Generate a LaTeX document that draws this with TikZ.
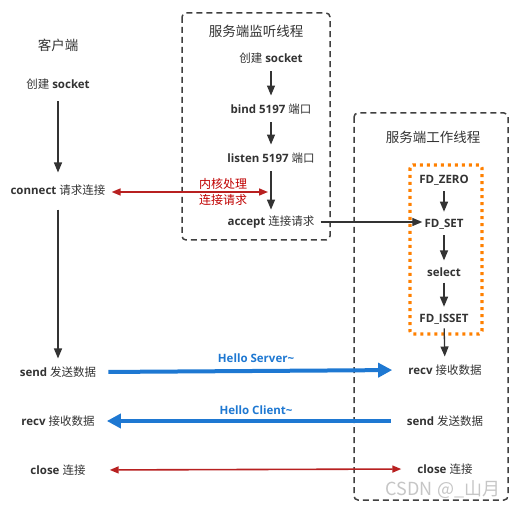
\documentclass[tikz,border=0pt]{standalone}
\usepackage{fontspec}
\setmainfont{Open Sans}
\newfontfamily\cjk{Noto Sans CJK SC}
\newfontfamily\lat{Open Sans}
\usetikzlibrary{arrows.meta}
\definecolor{ink}{HTML}{333333}
\definecolor{boxgray}{HTML}{404040}
\definecolor{redc}{HTML}{B82020}
\definecolor{redt}{HTML}{C00000}
\definecolor{bluec}{HTML}{1E78D2}
\definecolor{orangec}{HTML}{FF8000}
\newcommand\en[1]{{\lat\bfseries #1}}
\newcommand\zh[1]{{\cjk #1}}
\tikzset{
  lbl/.style={text=ink, inner xsep=6pt, inner ysep=8pt, font=\fontsize{11.5}{13.5}\selectfont},
  ttl/.style={text=ink, font=\cjk\fontsize{13.5}{16}\selectfont},
  darr/.style={draw=ink, line width=1.3pt, -{Triangle[length=10pt,width=8pt]}},
  redarr/.style={draw=redc, line width=1.6pt, {Triangle[length=9pt,width=7pt]}-{Triangle[length=9pt,width=7pt]}},
  bluearr/.style={draw=bluec, line width=4pt, -{Triangle[length=14pt,width=14pt]}},
  dbox/.style={draw=boxgray, line width=1.5pt, dash pattern=on 6pt off 4pt, rounded corners=4pt},
  obox/.style={draw=orangec, line width=3.2pt, dash pattern=on 3pt off 4pt, rounded corners=3pt},
}
\begin{document}
\begin{tikzpicture}[x=1pt,y=-1pt]
\path[use as bounding box, fill=white] (0,0) rectangle (516,510);
% boxes
\draw[dbox] (182,13) rectangle (330,240);
\draw[dbox] (354,113) rectangle (508,500);
\draw[obox] (410,165) rectangle (482,334);
% titles
\node[ttl] (tclient) at (58,45) {客户端};
\node[ttl] (tlisten) at (256,31) {服务端监听线程};
\node[ttl] (twork) at (433,137) {服务端工作线程};
% client column
\node[lbl] (csock) at (58,84) {\zh{创建} \en{socket}};
\node[lbl] (cconn) at (58,190) {\en{connect} \zh{请求连接}};
\node[lbl] (csend) at (58,372) {\en{send} \zh{发送数据}};
\node[lbl] (crecv) at (58,421) {\en{recv} \zh{接收数据}};
\node[lbl] (cclose) at (58,470) {\en{close} \zh{连接}};
% listen thread
\node[lbl] (lsock) at (271,58) {\zh{创建} \en{socket}};
\node[lbl] (lbind) at (271,109) {\en{bind 5197} \zh{端口}};
\node[lbl] (llisten) at (271,158) {\en{listen 5197} \zh{端口}};
\node[lbl] (lacc) at (271,222) {\en{accept} \zh{连接请求}};
% worker thread
\node[lbl] (fzero) at (444,180) {\en{FD\_ZERO}};
\node[lbl] (fset) at (444,224) {\en{FD\_SET}};
\node[lbl] (fsel) at (444,272) {\en{select}};
\node[lbl] (fisset) at (444,319) {\en{FD\_ISSET}};
\node[lbl] (wrecv) at (445,370) {\en{recv} \zh{接收数据}};
\node[lbl] (wsend) at (445,421) {\en{send} \zh{发送数据}};
\node[lbl] (wclose) at (445,469) {\en{close} \zh{连接}};
% labels
\node[text=redt, font=\cjk\fontsize{12}{16}\selectfont, align=left, inner sep=0pt] (kern) at (223,192) {内核处理\\连接请求};
\node[text=bluec, font=\lat\bfseries\fontsize{11.5}{13}\selectfont] (hs) at (256,358) {Hello Server\textasciitilde};
\node[text=bluec, font=\lat\bfseries\fontsize{11.5}{13}\selectfont] (hc) at (256,410) {Hello Client\textasciitilde};
\node[text=gray!45, font=\cjk\fontsize{18}{20}\selectfont] (wm) at (443,490) {CSDN @\_山月};
% connectors
\coordinate (kin) at (268,192);
\draw[darr, shorten <=4pt, shorten >=4pt] (csock) -- (cconn);
\draw[darr, shorten <=6pt, shorten >=0pt] (cconn) -- (csend);
\draw[darr] (lsock) -- (lbind);
\draw[darr] (lbind) -- (llisten);
\draw[darr, shorten >=-2pt] (llisten) -- (lacc);
\draw[redarr, shorten <=0pt] (cconn.east |- kin) -- (kin);
\draw[darr, shorten >=-4pt] (lacc.east) -- (lacc.east -| fset.west);
\draw[darr, shorten <=-2pt, shorten >=-1pt] (fzero) -- (fset);
\draw[darr, shorten <=-2pt, shorten >=-1pt] (fset) -- (fsel);
\draw[darr, shorten <=-2pt, shorten >=-1pt] (fsel) -- (fisset);
\draw[darr, shorten <=-4pt, shorten >=0pt] (fisset) -- (wrecv);
\draw[bluearr, shorten <=6pt, shorten >=10pt] (csend.east) -- (wrecv.west);
\draw[bluearr, shorten <=10pt, shorten >=6pt] (wsend.west) -- (crecv.east);
\draw[redarr, shorten <=18pt, shorten >=10pt] (cclose.east) -- (wclose.west);
\end{tikzpicture}
\end{document}
